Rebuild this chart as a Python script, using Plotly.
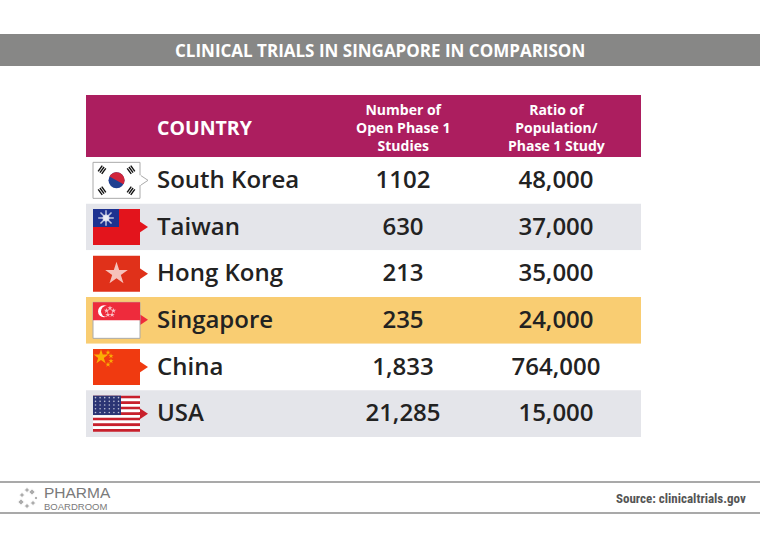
import numpy as np
import plotly.graph_objects as go

# Table data
countries = ["South Korea", "Taiwan", "Hong Kong", "Singapore", "China", "USA"]
open_phase1 = ["1102", "630", "213", "235", "1,833", "21,285"]
pop_ratio = ["48,000", "37,000", "35,000", "24,000", "764,000", "15,000"]
headers = ["COUNTRY", "Number of<br>Open Phase 1<br>Studies", "Ratio of<br>Population/<br>Phase 1 Study"]

W, H = 760, 549
TX0, TX1 = 86, 641
HEAD_TOP, HEAD_BOT = 95, 157
ROW_H = (437 - HEAD_BOT) / len(countries)
COL_X = [205, 403, 556]
FONT = "Open Sans"

shapes = []


def rect(x0, y0, x1, y1, fill, line=None, lw=0):
    shapes.append(dict(type="rect", x0=x0, y0=y0, x1=x1, y1=y1, xref="x", yref="y",
                       fillcolor=fill, line=dict(color=line or fill, width=lw), layer="below"))


def poly(pts, fill, line=None, lw=0):
    d = "M " + " L ".join(f"{x:.2f},{y:.2f}" for x, y in pts) + " Z"
    shapes.append(dict(type="path", path=d, xref="x", yref="y", fillcolor=fill,
                       line=dict(color=line or fill, width=lw), layer="below"))


def circle(cx, cy, r, fill):
    shapes.append(dict(type="circle", x0=cx - r, y0=cy - r, x1=cx + r, y1=cy + r,
                       xref="x", yref="y", fillcolor=fill, line=dict(width=0), layer="below"))


def seg(x0, y0, x1, y1, color, w):
    shapes.append(dict(type="line", x0=x0, y0=y0, x1=x1, y1=y1, xref="x", yref="y",
                       line=dict(color=color, width=w), layer="below"))


# title band
rect(0, 34, W, 66, "#878786")

# header and rows
rect(TX0, HEAD_TOP, TX1, HEAD_BOT, "#ac1e5f")
row_mid = []
for i, c in enumerate(countries):
    y0 = HEAD_BOT + i * ROW_H
    if c == "Singapore":
        fill = "#f9cd72"
    elif i % 2 == 1:
        fill = "#e4e5ea"
    else:
        fill = "#ffffff"
    rect(TX0, y0, TX1, y0 + ROW_H, fill)
    row_mid.append(y0 + ROW_H / 2)

# flags
FX0, FX1, FH = 93, 140, 36
star_x, star_y, star_c, star_s = [], [], [], []


def pointer(cy, fill, line=None, lw=0):
    poly([(FX1 - 1, cy - 6), (FX1 + 8, cy), (FX1 - 1, cy + 6)], fill, line, lw)


for c, cy in zip(countries, row_mid):
    t, b = cy - FH / 2, cy + FH / 2
    cx = (FX0 + FX1) / 2
    if c == "South Korea":
        pointer(cy, "#ffffff", "#aaaaaa", 1)
        rect(FX0, t, FX1, b, "#ffffff", "#aaaaaa", 1)
        seg(FX1, cy - 5, FX1, cy + 5, "#ffffff", 2)
        circle(cx, cy, 8, "#1f3f91")
        a = np.linspace(np.pi + 0.5, 2 * np.pi + 0.5, 30)
        pts = [(cx + 8 * np.cos(v), cy + 8 * np.sin(v)) for v in a]
        poly(pts, "#d0243a")
        for sx, sy in [(-1, -1), (1, -1), (-1, 1), (1, 1)]:
            dx, dy = sx * 14.5, sy * 10.5
            n = np.hypot(dx, dy)
            ux, uy = dx / n, dy / n
            px, py = -uy, ux
            for k in (-2.2, 0, 2.2):
                mx, my = cx + dx + ux * k, cy + dy + uy * k
                seg(mx - px * 3.5, my - py * 3.5, mx + px * 3.5, my + py * 3.5, "#111111", 1.4)
    elif c == "Taiwan":
        pointer(cy, "#e3141c")
        rect(FX0, t, FX1, b, "#e3141c")
        rect(FX0, t, FX0 + 26, cy, "#1d3290")
        star_x += [FX0 + 13]; star_y += [t + 9]; star_c += ["#ffffff"]; star_s += [("asterisk-open", 13)]
        star_x += [FX0 + 13]; star_y += [t + 9]; star_c += ["#ffffff"]; star_s += [("circle", 7)]
    elif c == "Hong Kong":
        pointer(cy, "#e0311a")
        rect(FX0, t, FX1, b, "#e0311a")
        star_x += [cx]; star_y += [cy]; star_c += ["#ffffff"]; star_s += [("star", 17)]
    elif c == "Singapore":
        pointer(cy - 0.5, "#ee2b3c")
        rect(FX0, t, FX1, b, "#ffffff", "#aaaaaa", 1)
        rect(FX0, t, FX1, cy, "#ee2b3c")
        circle(FX0 + 11, t + 9, 6, "#ffffff")
        circle(FX0 + 13.5, t + 9, 5.5, "#ee2b3c")
        for k in range(5):
            ang = -np.pi / 2 + k * 2 * np.pi / 5
            star_x += [FX0 + 17 + 3.6 * np.cos(ang)]
            star_y += [t + 9.5 + 3.6 * np.sin(ang)]
            star_c += ["#ffffff"]; star_s += [("star", 4)]
    elif c == "China":
        pointer(cy, "#f03a10")
        rect(FX0, t, FX1, b, "#f03a10")
        star_x += [FX0 + 8]; star_y += [t + 8]; star_c += ["#ffe000"]; star_s += [("star", 11)]
        for ox, oy in [(15, 3.5), (18, 7), (18, 12), (15, 15.5)]:
            star_x += [FX0 + ox]; star_y += [t + oy]; star_c += ["#ffe000"]; star_s += [("star", 4)]
    elif c == "USA":
        pointer(cy, "#c8202c")
        sh = FH / 13
        for k in range(13):
            rect(FX0, t + k * sh, FX1, t + (k + 1) * sh, "#c8202c" if k % 2 == 0 else "#ffffff")
        rect(FX0, t, FX0 + 28, t + 7 * sh, "#2b3574")
        for r in range(5):
            for q in range(6):
                star_x += [FX0 + 2.5 + q * 4.6]
                star_y += [t + 2 + r * 3.7]
                star_c += ["#ffffff"]; star_s += [("circle", 1.6)]

# footer lines
seg(0, 482, W, 482, "#8c8c8c", 1.5)
seg(0, 513, W, 513, "#8c8c8c", 1.5)

fig = go.Figure()

for sym in sorted(set(s[0] for s in star_s)):
    idx = [i for i, s in enumerate(star_s) if s[0] == sym]
    fig.add_trace(go.Scatter(
        x=[star_x[i] for i in idx], y=[star_y[i] for i in idx], mode="markers",
        marker=dict(symbol=sym, size=[star_s[i][1] for i in idx],
                    color=[star_c[i] for i in idx],
                    line=dict(width=1.5 if sym == "asterisk-open" else 0,
                              color=[star_c[i] for i in idx])),
        hoverinfo="skip", showlegend=False))

text_y = [m + 1.5 for m in row_mid]
cell_font = dict(family=FONT, size=24, color="#222222", weight=600)
fig.add_trace(go.Scatter(
    x=[157] * len(countries), y=text_y, mode="text", text=countries,
    textposition="middle right", textfont=cell_font,
    hoverinfo="skip", showlegend=False))
fig.add_trace(go.Scatter(
    x=[COL_X[1]] * len(countries), y=text_y, mode="text", text=open_phase1,
    textposition="middle center", textfont=cell_font,
    hoverinfo="skip", showlegend=False))
fig.add_trace(go.Scatter(
    x=[COL_X[2]] * len(countries), y=text_y, mode="text", text=pop_ratio,
    textposition="middle center", textfont=cell_font,
    hoverinfo="skip", showlegend=False))

# logo dots
logo_x = [22, 27, 32, 21, 27, 33, 36]
logo_y = [495, 490, 492, 502, 506, 503, 498]
fig.add_trace(go.Scatter(
    x=logo_x, y=logo_y, mode="markers",
    marker=dict(symbol="diamond", size=[4, 4, 5, 5, 4, 4, 3], color="#8a8a8a"),
    hoverinfo="skip", showlegend=False))

annotations = [
    dict(x=W / 2, y=50, text="<b>CLINICAL TRIALS IN SINGAPORE IN COMPARISON</b>",
         font=dict(family="Open Sans", size=17, color="#ffffff")),
    dict(x=COL_X[0], y=127, text="<b>" + headers[0] + "</b>",
         font=dict(family=FONT, size=19.5, color="#ffffff")),
    dict(x=COL_X[1], y=127, text="<b>" + headers[1] + "</b>",
         font=dict(family=FONT, size=14, color="#ffffff")),
    dict(x=COL_X[2], y=127, text="<b>" + headers[2] + "</b>",
         font=dict(family=FONT, size=14, color="#ffffff")),
    dict(x=42, y=498,
         text="<span style='font-size:15.5px'>PHARMA</span><br>BOARDROOM",
         xanchor="left", align="left",
         font=dict(family="Liberation Sans", size=9.5, color="#7a7a7a")),
    dict(x=748, y=498, text="<b>Source: clinicaltrials.gov</b>", xanchor="right",
         font=dict(family="Roboto Condensed, Liberation Sans Narrow, Roboto", size=13, color="#555555")),
]
for a in annotations:
    a.update(xref="x", yref="y", showarrow=False)
    a.setdefault("xanchor", "center")
    a["yanchor"] = "middle"

fig.update_layout(
    width=W, height=H, margin=dict(l=0, r=0, t=0, b=0),
    paper_bgcolor="#ffffff", plot_bgcolor="#ffffff",
    xaxis=dict(range=[0, W], visible=False, fixedrange=True),
    yaxis=dict(range=[H, 0], visible=False, fixedrange=True),
    shapes=shapes, annotations=annotations, showlegend=False,
)

fig.write_html("out.html", config={"displayModeBar": False},
               post_script="document.body.style.margin='0';")
